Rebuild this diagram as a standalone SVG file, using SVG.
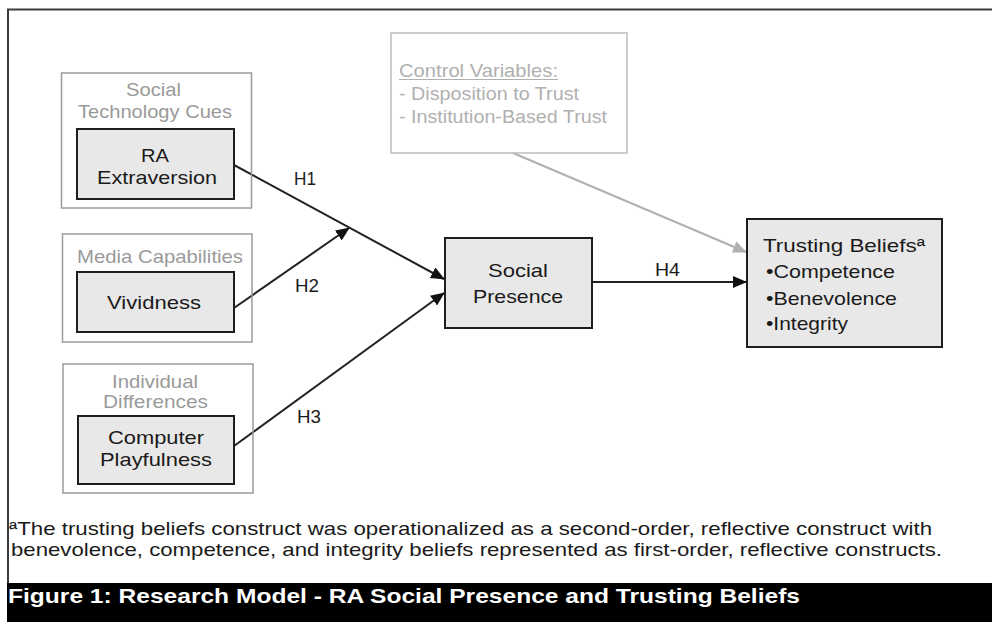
<svg xmlns="http://www.w3.org/2000/svg" width="992" height="622" viewBox="0 0 992 622">
  <style>
    text { font-family: "Liberation Sans", Arial, sans-serif; font-size: 19px; }
    .grp-lbl { fill: #9a9a9a; }
    .ctl-lbl { fill: #b0b0b0; }
    .grp { fill: none; stroke: #9a9a9a; stroke-width: 1.5; }
    .box { fill: #e8e8e8; stroke: #1e1e1e; stroke-width: 2; }
    .ctl { fill: none; stroke: #bdbdbd; stroke-width: 1.5; }
    .edge { fill: none; stroke: #222; stroke-width: 2; }
    .edge-ctl { fill: none; stroke: #b0b0b0; stroke-width: 2; }
    .note { fill: #1a1a1a; font-size: 18.5px; }
    .title { fill: #ffffff; font-weight: bold; font-size: 20.5px; }
  </style>
  <defs>
    <marker id="arrow" markerUnits="userSpaceOnUse" markerWidth="14" markerHeight="12" refX="13" refY="6" orient="auto">
      <path d="M0,0 L14,6 L0,12 Z" fill="#111"/>
    </marker>
    <marker id="arrow-gray" markerUnits="userSpaceOnUse" markerWidth="14" markerHeight="12" refX="13" refY="6" orient="auto">
      <path d="M0,0 L14,6 L0,12 Z" fill="#b0b0b0"/>
    </marker>
  </defs>

  <!-- page background and frame -->
  <rect x="0" y="0" width="992" height="622" fill="#ffffff"/>
  <path d="M8,583 L8,9.5 L992,9.5" fill="none" stroke="#3c3c3c" stroke-width="2"/>

  <!-- connectors -->
  <g id="connectors">
    <line id="h1" class="edge" x1="234" y1="165" x2="444" y2="279" marker-end="url(#arrow)"/>
    <line id="h2" class="edge" x1="234" y1="308" x2="349" y2="228" marker-end="url(#arrow)"/>
    <line id="h3" class="edge" x1="234" y1="446" x2="444" y2="293" marker-end="url(#arrow)"/>
    <line id="h4" class="edge" x1="592" y1="282" x2="746" y2="282" marker-end="url(#arrow)"/>
    <line id="ctl-edge" class="edge-ctl" x1="513" y1="153" x2="746" y2="252" marker-end="url(#arrow-gray)"/>
    <text x="294" y="184.5" fill="#1a1a1a" textLength="22" lengthAdjust="spacingAndGlyphs">H1</text>
    <text x="295" y="291.5" fill="#1a1a1a" textLength="24" lengthAdjust="spacingAndGlyphs">H2</text>
    <text x="297" y="422.5" fill="#1a1a1a" textLength="24" lengthAdjust="spacingAndGlyphs">H3</text>
    <text x="655" y="276" fill="#1a1a1a" textLength="25" lengthAdjust="spacingAndGlyphs">H4</text>
  </g>

  <!-- social technology cues -->
  <g id="social-technology-cues">
    <rect class="grp" x="61.5" y="73" width="190" height="135"/>
    <text class="grp-lbl" x="126" y="96" textLength="55" lengthAdjust="spacingAndGlyphs">Social</text>
    <text class="grp-lbl" x="78" y="118" textLength="154" lengthAdjust="spacingAndGlyphs">Technology Cues</text>
  </g>
  <g id="ra-extraversion">
    <rect class="box" x="77" y="129" width="157" height="70"/>
    <text x="141" y="161.5" fill="#1a1a1a" textLength="28" lengthAdjust="spacingAndGlyphs">RA</text>
    <text x="97" y="184" fill="#1a1a1a" textLength="120" lengthAdjust="spacingAndGlyphs">Extraversion</text>
  </g>

  <!-- media capabilities -->
  <g id="media-capabilities">
    <rect class="grp" x="62.5" y="234" width="189.5" height="108"/>
    <text class="grp-lbl" x="77" y="262.5" textLength="166" lengthAdjust="spacingAndGlyphs">Media Capabilities</text>
  </g>
  <g id="vividness">
    <rect class="box" x="77" y="272" width="157" height="60"/>
    <text x="107" y="308.5" fill="#1a1a1a" textLength="94" lengthAdjust="spacingAndGlyphs">Vividness</text>
  </g>

  <!-- individual differences -->
  <g id="individual-differences">
    <rect class="grp" x="63" y="364" width="190" height="129"/>
    <text class="grp-lbl" x="112" y="388" textLength="86" lengthAdjust="spacingAndGlyphs">Individual</text>
    <text class="grp-lbl" x="103" y="408" textLength="105" lengthAdjust="spacingAndGlyphs">Differences</text>
  </g>
  <g id="computer-playfulness">
    <rect class="box" x="78" y="416" width="156" height="68"/>
    <text x="108" y="444" fill="#1a1a1a" textLength="96" lengthAdjust="spacingAndGlyphs">Computer</text>
    <text x="100" y="466" fill="#1a1a1a" textLength="112" lengthAdjust="spacingAndGlyphs">Playfulness</text>
  </g>

  <!-- social presence -->
  <g id="social-presence">
    <rect class="box" x="445" y="238" width="147" height="90"/>
    <text x="488" y="276.5" fill="#1a1a1a" textLength="60" lengthAdjust="spacingAndGlyphs">Social</text>
    <text x="473" y="303" fill="#1a1a1a" textLength="90" lengthAdjust="spacingAndGlyphs">Presence</text>
  </g>

  <!-- control variables -->
  <g id="control-variables">
    <rect class="ctl" x="391" y="33" width="236" height="120"/>
    <text class="ctl-lbl" x="399" y="77" textLength="159" lengthAdjust="spacingAndGlyphs">Control Variables:</text>
    <line x1="399" y1="79.5" x2="558" y2="79.5" stroke="#b0b0b0" stroke-width="1"/>
    <text class="ctl-lbl" x="399" y="99.5" textLength="180" lengthAdjust="spacingAndGlyphs">- Disposition to Trust</text>
    <text class="ctl-lbl" x="399" y="122.5" textLength="208" lengthAdjust="spacingAndGlyphs">- Institution-Based Trust</text>
  </g>

  <!-- trusting beliefs -->
  <g id="trusting-beliefs">
    <rect class="box" x="747" y="219" width="195" height="128"/>
    <text x="763" y="251.5" fill="#1a1a1a" textLength="162" lengthAdjust="spacingAndGlyphs">Trusting Beliefsª</text>
    <text x="766" y="278" fill="#1a1a1a" textLength="129" lengthAdjust="spacingAndGlyphs">•Competence</text>
    <text x="766" y="305" fill="#1a1a1a" textLength="131" lengthAdjust="spacingAndGlyphs">•Benevolence</text>
    <text x="766" y="330" fill="#1a1a1a" textLength="82" lengthAdjust="spacingAndGlyphs">•Integrity</text>
  </g>

  <!-- footnote -->
  <g id="footnote">
    <text class="note" x="9" y="535" textLength="923" lengthAdjust="spacingAndGlyphs">ªThe trusting beliefs construct was operationalized as a second-order, reflective construct with</text>
    <text class="note" x="11" y="555.5" textLength="931" lengthAdjust="spacingAndGlyphs">benevolence, competence, and integrity beliefs represented as first-order, reflective constructs.</text>
  </g>

  <!-- caption bar -->
  <g id="caption">
    <rect x="7" y="583" width="985" height="39" fill="#000000"/>
    <text class="title" x="8" y="603" textLength="792" lengthAdjust="spacingAndGlyphs">Figure 1: Research Model - RA Social Presence and Trusting Beliefs</text>
  </g>
</svg>
